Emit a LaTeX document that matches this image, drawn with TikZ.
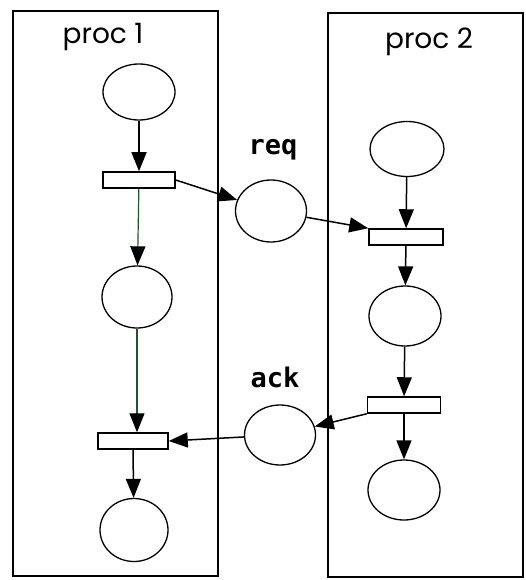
\documentclass[tikz,border=0pt]{standalone}
\usepackage{fontspec}
\usetikzlibrary{shapes.geometric,arrows.meta}
\newfontfamily\procfont{Poppins}
\newfontfamily\labfont{DejaVu Sans Mono}
\definecolor{arcgreen}{RGB}{35,85,45}
\tikzset{
  place/.style={ellipse,draw,line width=1.3pt,inner sep=0pt},
  trans/.style={rectangle,draw,line width=1.5pt,inner sep=0pt,minimum width=72pt,minimum height=16pt},
  petriarc/.style={line width=1.5pt,-{Triangle[length=19pt,width=15pt]}},
  greenarc/.style={line width=1.2pt,draw=arcgreen,-{Triangle[length=19pt,width=15pt,color=black]}},
  procbox/.style={draw,line width=1.8pt},
  proclabel/.style={font=\procfont\fontsize{28}{32}\selectfont},
  chlabel/.style={font=\labfont\bfseries\fontsize{27}{30}\selectfont}
}
\begin{document}
\begin{tikzpicture}[x=1pt,y=-1pt]
\useasboundingbox (0,0) rectangle (526,580);
% process boxes
\draw[procbox] (13,11) rectangle (218,576);
\draw[procbox] (328,13) rectangle (523,577);
\node[proclabel] (p1) at (103,37) {proc 1};
\node[proclabel] (p2) at (429,42) {proc 2};
% left column
\node[place,minimum width=72pt,minimum height=56pt] (a1) at (139,92) {};
\node[trans] (t1) at (139,180) {};
\node[place,minimum width=70pt,minimum height=62pt] (a2) at (137,297) {};
\node[trans,minimum width=70pt] (t2) at (133,441) {};
\node[place,minimum width=68pt,minimum height=63pt] (a3) at (134,530) {};
% right column
\node[place,minimum width=74pt,minimum height=55pt] (b1) at (407,149) {};
\node[trans,minimum width=74pt] (t3) at (406,237) {};
\node[place,minimum width=72pt,minimum height=60pt] (b2) at (405,316) {};
\node[trans,minimum width=73pt] (t4) at (404,405) {};
\node[place,minimum width=72pt,minimum height=60pt] (b3) at (404,490) {};
% channels
\node[place,minimum width=71pt,minimum height=62pt] (req) at (271,211) {};
\node[chlabel] (reql) at (273,150) {req};
\node[place,minimum width=71pt,minimum height=60pt] (ack) at (280,435) {};
\node[chlabel] (ackl) at (275,377) {ack};
% arcs
\draw[petriarc] (a1) -- (t1);
\draw[greenarc] (t1) -- (a2);
\draw[greenarc] (a2) -- (t2.north -| a2);
\draw[petriarc] (t2 |- t2.south) -- (a3);
\draw[petriarc] (t1.east) -- (req);
\draw[petriarc] (req) -- (t3.north west);
\draw[petriarc] (b1) -- (t3);
\draw[petriarc] (t3) -- (b2);
\draw[petriarc] (b2) -- (t4);
\draw[petriarc] (t4) -- (b3);
\draw[petriarc] (t4.south west) -- (ack);
\draw[petriarc] (ack) -- (t2.east);
\end{tikzpicture}
\end{document}
